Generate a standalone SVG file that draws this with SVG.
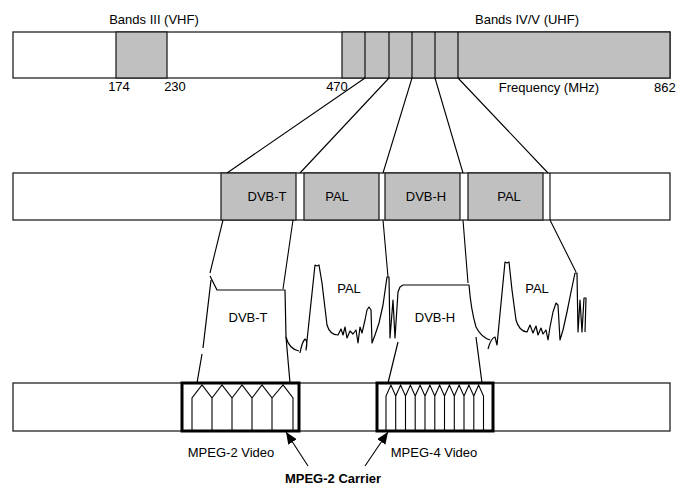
<svg xmlns="http://www.w3.org/2000/svg" width="676" height="487" viewBox="0 0 676 487">
<defs>
<style>
.bar{fill:#fff;stroke:#222;stroke-width:1.3}
.g{fill:#c0c0c0;stroke:#222;stroke-width:1.3}
.ln{fill:none;stroke:#000;stroke-width:1.1;stroke-linejoin:round}
.sp{fill:none;stroke:#000;stroke-width:1.2;stroke-linejoin:round}
.t{font-family:"Liberation Sans",Arial,sans-serif;font-size:13px;fill:#000;text-anchor:middle}
.b{font-weight:bold}
.thick{fill:none;stroke:#000;stroke-width:3}
.pent{fill:none;stroke:#000;stroke-width:1.1;stroke-linejoin:miter}
</style>
<marker id="ah" viewBox="0 0 12 10" refX="12" refY="5" markerWidth="12" markerHeight="10" markerUnits="userSpaceOnUse" orient="auto">
<path d="M0,0 L12,5 L0,10 Z" fill="#000"/>
</marker>
</defs>

<g id="top-bar">
<rect class="bar" x="13" y="32" width="657" height="46"/>
<rect class="g" x="116" y="32" width="51" height="46"/>
<rect class="g" x="342" y="32" width="328" height="46"/>
<path class="ln" d="M365,32 V78 M389,32 V78 M412,32 V78 M435,32 V78 M458,32 V78"/>
<text class="t" x="154" y="24">Bands III (VHF)</text>
<text class="t" x="527" y="24">Bands IV/V (UHF)</text>
<text class="t" x="119" y="91">174</text>
<text class="t" x="175" y="91">230</text>
<text class="t" x="337" y="91">470</text>
<text class="t" x="549" y="92">Frequency (MHz)</text>
<text class="t" x="654" y="92" style="text-anchor:start">862</text>
</g>

<g id="middle-bar">
<rect class="bar" x="13" y="173" width="657" height="47"/>
<rect class="g" x="221" y="173" width="75" height="47"/>
<rect class="g" x="304" y="173" width="75" height="47"/>
<rect class="g" x="385" y="173" width="75" height="47"/>
<rect class="g" x="468" y="173" width="75" height="47"/>
<path class="ln" d="M550,173 V220"/>
<text class="t" x="267" y="201">DVB-T</text>
<text class="t" x="337" y="201">PAL</text>
<text class="t" x="426" y="201">DVB-H</text>
<text class="t" x="509" y="201">PAL</text>
</g>

<g id="spectrum-dvbt">
<path class="sp" d="M210,276 L217,290 L285,290 L286,337 L290,383"/>
<path class="sp" d="M211,280 L203,348 M202,354 L197,383"/>
<text class="t" x="248" y="322">DVB-T</text>
</g>

<g id="spectrum-pal1">
<path class="sp" d="M286,337 Q289,349 299,351 M300,353 Q302,342 305,339 Q308,341 306,350 L315,265 L317,266 L319,265 L322,283 L327,325 Q330,335 338,335 L341,329 L343,335 L345,327 L347,338 L350,331 L353,334 L356,330 L358,343 L360,327 L362,333 L365,320 L367,310 L369,307 L371,310 L372,343 L375,335 L379,323 L383,305 L387,277 L389,277 L390,338 L393,300 L395,338 L398,292 L400,287 L403,285"/>
<text class="t" x="349" y="293">PAL</text>
</g>

<g id="spectrum-dvbh">
<path class="sp" d="M403,285 L469,285 Q471,310 476,327 Q481,337 490,340"/>
<path class="sp" d="M398,342 L388,383 M476,337 L482,383"/>
<text class="t" x="435" y="322">DVB-H</text>
</g>

<g id="spectrum-pal2">
<path class="sp" d="M488,349 Q491,338 495,337 L497,345 L505,262 L507,263 L509,262 L512,290 L516,320 Q519,331 527,332 L530,325 L533,333 L536,326 L538,335 L541,328 L543,334 L546,330 L548,340 L550,327 L553,312 L556,303 L558,305 L560,340 L563,330 L567,312 L571,292 L575,273 L577,273 L578,332 L580,300 L582,332 L584,298 L586,298 L585,332"/>
<text class="t" x="537" y="293">PAL</text>
</g>

<g id="bottom-bar">
<rect class="bar" x="13" y="383" width="657" height="48"/>
</g>

<g id="mpeg2-box">
<path class="pent" d="M192,431 V398 L202,385 L212,398 V431 M212,398 L222,385 L232,398 V431 M232,398 L242,385 L252,398 V431 M252,398 L262,385 L272,398 V431 M272,398 L283,385 L293,398 V431"/>
<rect class="thick" x="182" y="383" width="117" height="48"/>
<text class="t" x="231" y="457">MPEG-2 Video</text>
</g>

<g id="mpeg4-box">
<path class="pent" d="M386,431 V396 L390.9,385 L395.7,396 V431 M395.7,396 L400.6,385 L405.5,396 V431 M405.5,396 L410.4,385 L415.2,396 V431 M415.2,396 L420.1,385 L425,396 V431 M425,396 L429.9,385 L434.8,396 V431 M434.8,396 L439.6,385 L444.5,396 V431 M444.5,396 L449.4,385 L454.3,396 V431 M454.3,396 L459.1,385 L464,396 V431 M464,396 L468.9,385 L473.8,396 V431 M473.8,396 L478.6,385 L483.5,396 V431"/>
<rect class="thick" x="377" y="383" width="116" height="48"/>
<text class="t" x="434" y="457">MPEG-4 Video</text>
</g>

<g id="carrier-label">
<text class="t b" x="333" y="483">MPEG-2 Carrier</text>
</g>

<g id="connectors">
<path class="ln" d="M365,78 L227,173 M389,78 L300,173 M412,78 L383,173 M435,78 L463,173 M458,78 L548,173"/>
<path class="ln" d="M223,220 L210,273 M293,220 L283,289 M383,220 L388,277 M463,220 L468,283 M550,220 L576,272"/>
<path class="ln" d="M308,466 L286,432" marker-end="url(#ah)"/>
<path class="ln" d="M365,466 L388,432" marker-end="url(#ah)"/>
</g>
</svg>
